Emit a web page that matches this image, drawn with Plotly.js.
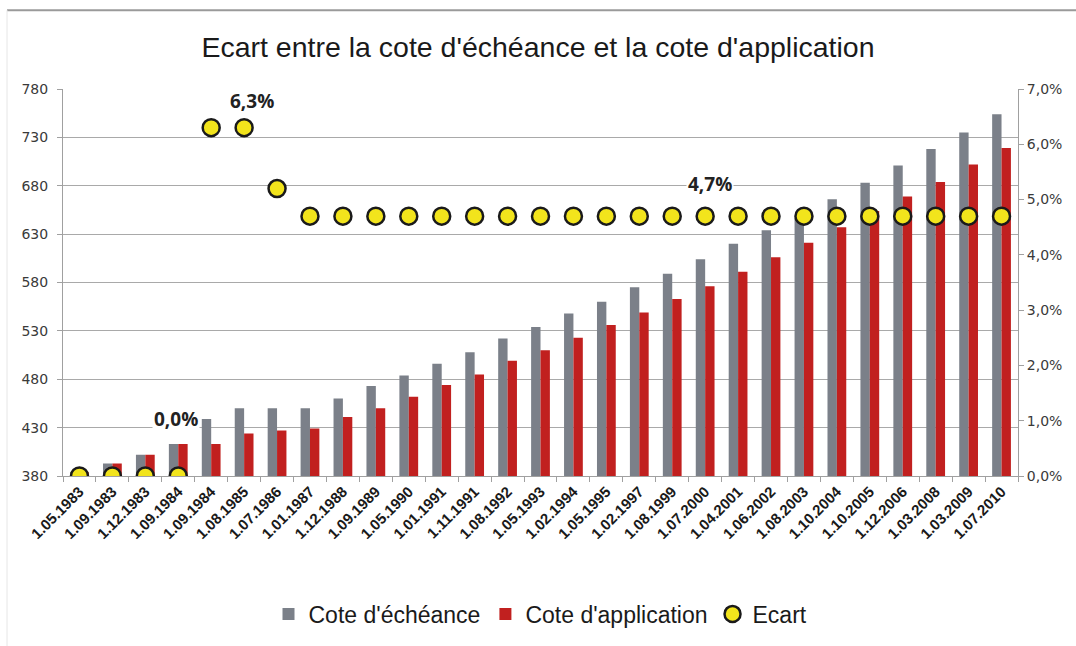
<!DOCTYPE html>
<html>
<head>
<meta charset="utf-8">
<script src="https://cdn.plot.ly/plotly-3.0.1.min.js"></script>
<style>html,body{margin:0;padding:0;background:#fff;}#chart{width:1076px;height:646px;}</style>
</head>
<body>
<div id="chart"></div>
<script>
const dates = ["1.05.1983","1.09.1983","1.12.1983","1.09.1984","1.09.1984","1.08.1985","1.07.1986","1.01.1987","1.12.1988","1.09.1989","1.05.1990","1.01.1991","1.11.1991","1.08.1992","1.05.1993","1.02.1994","1.05.1995","1.02.1997","1.08.1999","1.07.2000","1.04.2001","1.06.2002","1.08.2003","1.10.2004","1.10.2005","1.12.2006","1.03.2008","1.03.2009","1.07.2010"];
const coteEcheance = [384,393,402,413,439,450,450,450,460,473,484,496,508,522,534,548,560,575,589,604,620,634,647,666,683,701,718,735,754];
const coteApplication = [384,393,402,413,413,424,427,429,441,450,462,474,485,499,510,523,536,549,563,576,591,606,621,637,654,669,684,702,719];
const ecart = [0,0,0,0,0.063,0.063,0.052,0.047,0.047,0.047,0.047,0.047,0.047,0.047,0.047,0.047,0.047,0.047,0.047,0.047,0.047,0.047,0.047,0.047,0.047,0.047,0.047,0.047,0.047];
const seriesNames = ["Cote d'échéance","Cote d'application","Ecart"];
const idx = dates.map((d,i)=>i);
const boundaries = dates.map((d,i)=>i-0.5).concat([dates.length-0.5]);

const sans = "Liberation Sans, Arial, sans-serif";
const traces = [
  {type:'bar', name:seriesNames[0], x:idx, y:coteEcheance, marker:{color:'#7b8089'}, yaxis:'y'},
  {type:'bar', name:seriesNames[1], x:idx, y:coteApplication, marker:{color:'#c1201f'}, yaxis:'y'},
  {type:'scatter', mode:'markers', name:seriesNames[2], x:idx, y:ecart, yaxis:'y2',
   marker:{color:'#f2e41c', size:17, line:{color:'#1a1a1a', width:2.5}}}
];

const annFont = {family:'Open Sans, sans-serif', size:19, color:'#222', weight:'bold'};
const layout = {
  width:1076, height:646,
  margin:{l:63, r:58, t:89, b:169},
  paper_bgcolor:'#ffffff', plot_bgcolor:'#ffffff',
  separators:', ',
  barmode:'group', bargap:0.43, bargroupgap:0,
  showlegend:true,
  title:{text:"Ecart entre la cote d'échéance et la cote d'application",
    font:{family:sans, size:28.5, color:'#1a1a1a'},
    x:0.5, xanchor:'center', y:0.927, yanchor:'middle', yref:'container'},
  xaxis:{range:[-0.5, dates.length-0.5], tickmode:'array', tickvals:idx, ticktext:dates,
    tickangle:-45, ticks:'', showgrid:false, zeroline:false,
    showline:true, linecolor:'#a0a0a0', linewidth:1,
    tickfont:{family:sans, size:15, color:'#1a1a1a', weight:'bold'}},
  xaxis2:{overlaying:'x', anchor:'y', side:'bottom', range:[-0.5, dates.length-0.5], tickmode:'array',
    tickvals:boundaries, showticklabels:false, ticks:'outside', ticklen:5, tickcolor:'#a0a0a0',
    showgrid:false, zeroline:false, showline:false},
  yaxis:{range:[380,780], dtick:50, tick0:380, showgrid:true, gridcolor:'#a9a9a9', gridwidth:1,
    zeroline:false, showline:true, linecolor:'#a0a0a0', ticks:'outside', ticklen:5, tickcolor:'#a0a0a0',
    ticklabelstandoff:6,
    tickfont:{family:'DejaVu Sans, sans-serif', size:14, color:'#3a3a3a'}},
  yaxis2:{overlaying:'y', side:'right', range:[0,0.07], dtick:0.01, tickformat:'.1%',
    showgrid:false, zeroline:false, showline:true, linecolor:'#a0a0a0', ticks:'outside', ticklen:5, tickcolor:'#a0a0a0',
    tickfont:{family:'DejaVu Sans, sans-serif', size:14, color:'#3a3a3a'}},
  legend:{orientation:'h', x:0.5, xanchor:'center', y:-0.353, yanchor:'middle',
    font:{family:sans, size:23, color:'#1a1a1a'}, itemwidth:30, traceorder:'normal'},
  annotations:[
    {text:'6,3%', xref:'paper', yref:'paper', x:0.198, y:0.968, xanchor:'center', yanchor:'middle', showarrow:false, bgcolor:'#ffffff', font:annFont},
    {text:'0,0%', xref:'paper', yref:'paper', x:0.118, y:0.147, xanchor:'center', yanchor:'middle', showarrow:false, bgcolor:'#ffffff', font:annFont},
    {text:'4,7%', xref:'paper', yref:'paper', x:0.678, y:0.755, xanchor:'center', yanchor:'middle', showarrow:false, bgcolor:'#ffffff', font:annFont}
  ],
  shapes:[
    {type:'line', xref:'paper', yref:'paper', x0:-0.0586, x1:1.07, y0:1.2036, y1:1.2036, line:{color:'#9a9a9a', width:2}},
    {type:'line', xref:'paper', yref:'paper', x0:-0.0586, x1:-0.0586, y0:1.2036, y1:-0.44, line:{color:'#e6e6e6', width:1}}
  ]
};
traces.push({type:'scatter', x:[], y:[], xaxis:'x2', yaxis:'y', showlegend:false, hoverinfo:'skip'});
Plotly.newPlot('chart', traces, layout, {displayModeBar:false});
</script>
</body>
</html>
